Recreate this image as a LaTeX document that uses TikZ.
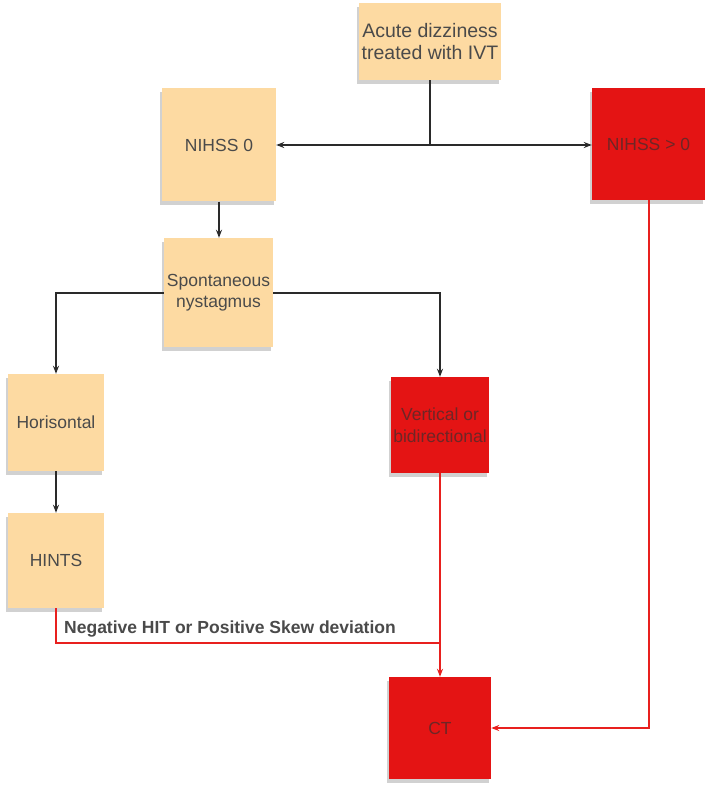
\documentclass[tikz,border=0pt]{standalone}
\usepackage{fontspec}
\setmainfont{Liberation Sans}
\usetikzlibrary{arrows.meta,shadows}
\definecolor{sticky}{HTML}{FDDAA2}
\definecolor{alarm}{HTML}{E41414}
\definecolor{txt}{HTML}{4A4A4A}
\definecolor{redtxt}{HTML}{6E2626}
\definecolor{redline}{HTML}{E8201E}
\definecolor{blackline}{HTML}{2A2A2A}
\tikzset{
  note/.style={draw=none, fill=sticky, inner sep=0pt, align=center, text=txt,
    font=\fontsize{17.5}{21.5}\selectfont,
    drop shadow={shadow xshift=-2pt, shadow yshift=-4pt, opacity=0.18, fill=black}},
  alarmnote/.style={note, fill=alarm, text=redtxt},
  blk/.style={draw=blackline, line width=2pt},
  blkarrow/.style={blk, -{Stealth[length=8pt,width=6pt]}},
  red/.style={draw=redline, line width=2pt},
  redarrow/.style={red, -{Stealth[length=8pt,width=6pt]}},
  edgelabel/.style={font=\bfseries\fontsize{17.5}{21}\selectfont, text=txt, inner sep=0pt}
}
\begin{document}
\begin{tikzpicture}[x=1pt,y=-1pt]
\useasboundingbox (0,0) rectangle (709,786);
\fill[white] (0,0) rectangle (709,786);

\node[note, minimum width=142pt, minimum height=77pt, font=\fontsize{19.5}{22.5}\selectfont] (acute) at (430,41.5) {Acute dizziness\\treated with IVT};
\node[note, minimum width=114pt, minimum height=113pt] (n0) at (219,145) {NIHSS 0};
\node[alarmnote, minimum width=113pt, minimum height=112pt] (npos) at (648.5,144) {NIHSS > 0};
\node[note, minimum width=109pt, minimum height=109pt] (spont) at (218.5,292.5) {Spontaneous\\nystagmus};
\node[note, minimum width=96pt, minimum height=97pt] (horis) at (56,422.5) {Horisontal};
\node[alarmnote, minimum width=98pt, minimum height=96pt] (vert) at (440,425) {Vertical or\\bidirectional};
\node[note, minimum width=96pt, minimum height=95pt] (hints) at (56,560.5) {HINTS};
\node[alarmnote, minimum width=102pt, minimum height=102pt] (ct) at (440,728) {CT};

\coordinate (j1) at (acute.south |- n0.east);
\draw[blk] (acute.south) -- (j1);
\draw[blkarrow] (j1) -- (n0.east);
\draw[blkarrow] (j1) -- (j1 -| npos.west);
\draw[blkarrow] (n0.south) -- (n0.south |- spont.north);
\draw[blkarrow] (spont.west) -| (horis.north);
\draw[blkarrow] (spont.east) -| (vert.north);
\draw[blkarrow] (horis.south) -- (hints.north);

\coordinate (j2) at (440,643);
\draw[red] (hints.south) |- (j2);
\draw[redarrow] (vert.south) -- (ct.north);
\draw[redarrow] (npos.south) |- (ct.east);

\node[edgelabel, anchor=south west] (lbl) at (64,637) {Negative HIT or Positive Skew deviation};
\end{tikzpicture}
\end{document}
